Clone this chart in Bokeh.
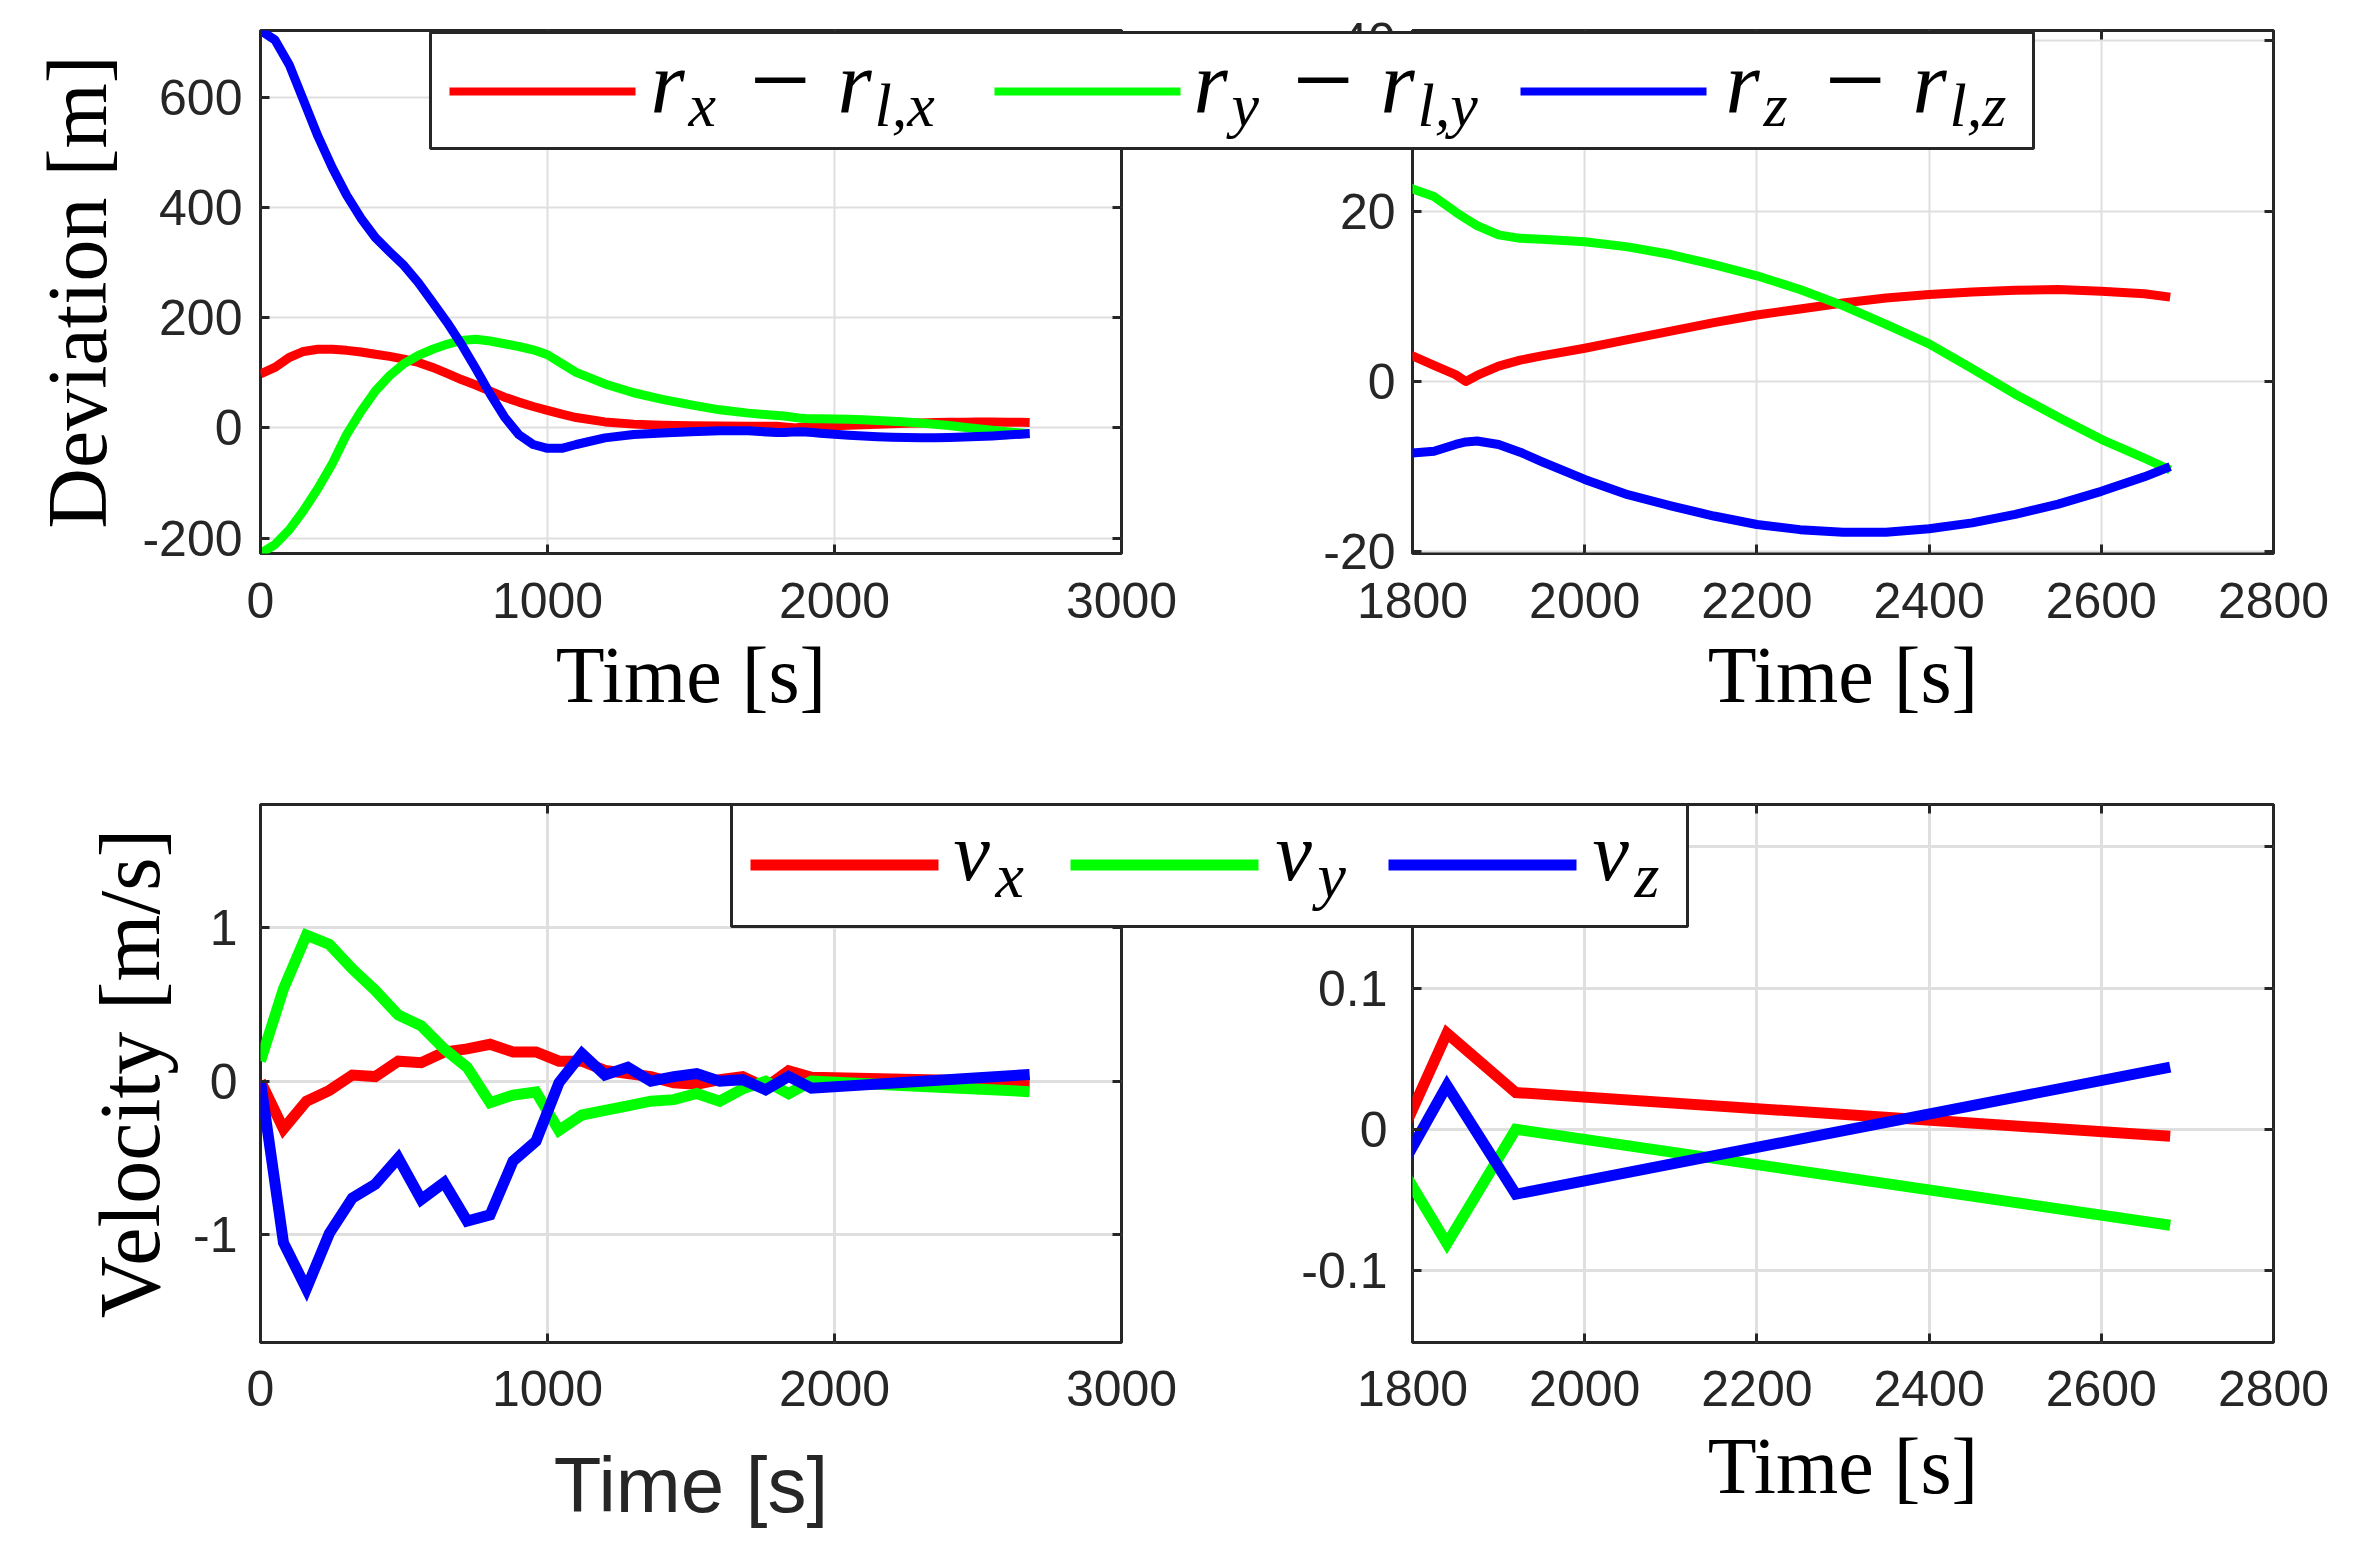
import numpy as np
from bokeh.plotting import figure
from bokeh.models import Range1d, FixedTicker, LinearAxis, GridBox
from bokeh.core.properties import value
from bokeh.embed import file_html
from bokeh.resources import INLINE

# ---------------- data ----------------
dev_time = [0, 50, 100, 150, 200, 250, 300, 350, 400, 450, 500, 550, 600, 650, 700, 750,
            800, 850, 900, 950, 1000, 1050, 1100, 1200, 1300, 1400, 1500, 1600, 1700, 1800,
            1825, 1850, 1862, 1875, 1900, 1925, 1950, 2000, 2050, 2100, 2150, 2200, 2250,
            2300, 2350, 2400, 2450, 2500, 2550, 2600, 2650, 2680]
dev_x = [98, 110, 128, 139, 143, 143, 141, 138, 134, 130, 125, 119, 110, 99, 88, 78,
         67, 56, 47, 39, 32, 25, 19, 11, 7, 5, 4, 3.5, 3.3, 3.0,
         1.9, 0.8, 0.0, 0.7, 1.8, 2.5, 3.0, 3.9, 4.9, 5.9, 6.9, 7.8, 8.5,
         9.2, 9.8, 10.2, 10.5, 10.7, 10.8, 10.6, 10.3, 9.9]
dev_y = [-228, -212, -185, -150, -110, -65, -12, 30, 67, 95, 117, 132, 143, 152, 159, 161,
         158, 153, 148, 142, 133, 117, 101, 80, 64, 52, 42, 33, 27, 22.6,
         21.7, 19.9, 19.1, 18.3, 17.2, 16.8, 16.7, 16.4, 15.8, 14.9, 13.7, 12.4, 10.8,
         8.9, 6.7, 4.4, 1.5, -1.5, -4.2, -6.8, -9.0, -10.4]
dev_z = [722, 705, 660, 595, 530, 473, 423, 381, 346, 320, 295, 264, 228, 192, 152, 108,
         62, 20, -12, -30, -37, -37, -30, -18, -12, -9, -7, -5, -5, -8.4,
         -8.2, -7.4, -7.1, -7.0, -7.4, -8.3, -9.4, -11.5, -13.3, -14.6, -15.8, -16.8, -17.4,
         -17.7, -17.7, -17.3, -16.6, -15.6, -14.4, -12.9, -11.2, -10.0]

vel_time = [0, 80, 160, 240, 320, 400, 480, 560, 640, 720, 800, 880, 960, 1040, 1120,
            1200, 1280, 1360, 1440, 1520, 1600, 1680, 1760, 1840, 1920, 2680]
vel_x = [0.0, -0.31, -0.13, -0.06, 0.04, 0.03, 0.13, 0.12, 0.19, 0.21, 0.24, 0.19, 0.19,
         0.13, 0.13, 0.07, 0.05, 0.03, -0.01, -0.02, 0.01, 0.03, -0.04, 0.068, 0.026, -0.005]
vel_y = [0.13, 0.6, 0.95, 0.89, 0.73, 0.59, 0.43, 0.36, 0.21, 0.09, -0.14, -0.09, -0.07,
         -0.32, -0.22, -0.19, -0.16, -0.13, -0.12, -0.08, -0.13, -0.05, 0.0, -0.081, 0.0, -0.068]
vel_z = [0.0, -1.05, -1.35, -0.99, -0.76, -0.67, -0.50, -0.77, -0.66, -0.91, -0.87, -0.52,
         -0.39, -0.01, 0.18, 0.04, 0.09, 0.0, 0.03, 0.05, 0.0, 0.01, -0.056, 0.031, -0.046, 0.044]

x_ticks_full = [0, 1000, 2000, 3000]
x_ticks_zoom = [1800, 2000, 2200, 2400, 2600, 2800]
dev_ticks_full = [-200, 0, 200, 400, 600]
dev_ticks_zoom = [-20, 0, 20, 40]
vel_ticks_full = [-1, 0, 1]
vel_ticks_zoom = [-0.1, 0, 0.1, 0.2]

series_colors = ["#ff0000", "#00ff00", "#0000ff"]
dev_sub = ["x", "y", "z"]
vel_sub = ["x", "y", "z"]

# ---------------- styling ----------------
AX = "#262626"
GRID = "#dfdfdf"
SANS = "Liberation Sans"
SERIF = "Liberation Serif"


def fmt(v):
    return ("%g" % v)


def style_ticks(ax, ticks):
    ax.ticker = FixedTicker(ticks=ticks)
    ax.axis_line_color = None
    ax.major_tick_in = 9
    ax.major_tick_out = 0
    ax.major_tick_line_color = AX
    ax.major_tick_line_width = 3
    ax.minor_tick_line_color = None


def panel(width, height, borders, xr, yr, xt, yt, lw, gw, join,
          xlabel=None, xlabel_font=SERIF, xlabel_size="80px", xlabel_standoff=0,
          ylabel=None, ylabel_size="84px", ylabel_standoff=0, xtick_standoff=28,
          ytick_standoff=18, times=None, series=None):
    l, r, t, b = borders
    p = figure(width=width, height=height, x_range=Range1d(*xr), y_range=Range1d(*yr),
               output_backend="svg", toolbar_location=None,
               min_border_left=l, min_border_right=r, min_border_top=t, min_border_bottom=b,
               background_fill_color="white", border_fill_color="white")
    p.outline_line_color = AX
    p.outline_line_width = 3
    xa = p.below[0]
    ya = p.left[0]
    for ax, ticks in ((xa, xt), (ya, yt)):
        style_ticks(ax, ticks)
        ax.major_label_overrides = {k: fmt(k) for k in ticks}
        ax.major_label_text_font = SANS
        ax.major_label_text_font_size = "50px"
        ax.major_label_text_color = AX
    xa.major_label_standoff = xtick_standoff
    ya.major_label_standoff = ytick_standoff
    # mirrored ticks on the right and top (box on)
    for loc, ticks in (("right", yt), ("above", xt)):
        ax2 = LinearAxis()
        style_ticks(ax2, ticks)
        ax2.major_label_overrides = {k: "" for k in ticks}
        ax2.major_label_text_font_size = "0px"
        ax2.major_label_standoff = 0
        p.add_layout(ax2, loc)
    p.grid.grid_line_color = GRID
    p.grid.grid_line_width = gw
    p.xgrid.ticker = FixedTicker(ticks=xt)
    p.ygrid.ticker = FixedTicker(ticks=yt)
    if xlabel:
        xa.axis_label = xlabel
        xa.axis_label_text_font = xlabel_font
        xa.axis_label_text_font_size = xlabel_size
        xa.axis_label_text_font_style = "normal"
        xa.axis_label_text_color = AX if xlabel_font == SANS else "black"
        xa.axis_label_standoff = xlabel_standoff
    if ylabel:
        ya.axis_label = ylabel
        ya.axis_label_text_font = SERIF
        ya.axis_label_text_font_size = ylabel_size
        ya.axis_label_text_font_style = "normal"
        ya.axis_label_text_color = "black"
        ya.axis_label_standoff = ylabel_standoff
    for vals, c in zip(series, series_colors):
        p.line(times, vals, line_color=c, line_width=lw, line_join=join)
    return p


# page layout: left column 1260 px, right column 1093 px; rows 760 / 775 px
tl = panel(1260, 760, (260, 139, 30, 207), (0, 3000), (-228, 722), x_ticks_full, dev_ticks_full,
           9, 2, "round", xlabel="Time [s]", xlabel_standoff=10, ylabel="Deviation [m]",
           ylabel_size="84px", ylabel_standoff=15, xtick_standoff=29, ytick_standoff=18,
           times=dev_time, series=[dev_x, dev_y, dev_z])
tr = panel(1093, 760, (152, 80, 30, 207), (1800, 2800), (-20.2, 41.2), x_ticks_zoom, dev_ticks_zoom,
           9, 2, "round", xlabel="Time [s]", xlabel_standoff=10,
           xtick_standoff=29, ytick_standoff=17,
           times=dev_time, series=[dev_x, dev_y, dev_z])
bl = panel(1260, 775, (260, 139, 44, 193), (0, 3000), (-1.7, 1.8), x_ticks_full, vel_ticks_full,
           11, 3, "miter", xlabel="Time [s]", xlabel_font=SANS, xlabel_size="78px",
           xlabel_standoff=32, ylabel="Velocity [m/s]", ylabel_size="86px", ylabel_standoff=12,
           xtick_standoff=28, ytick_standoff=23,
           times=vel_time, series=[vel_x, vel_y, vel_z])
br = panel(1093, 775, (152, 80, 44, 193), (1800, 2800), (-0.151, 0.23), x_ticks_zoom, vel_ticks_zoom,
           11, 3, "miter", xlabel="Time [s]", xlabel_standoff=13,
           xtick_standoff=28, ytick_standoff=25,
           times=vel_time, series=[vel_x, vel_y, vel_z])

# ---------------- overlay with the two legends (page pixel coordinates) ----------------
W, H = 2353, 1535
FL, FR, FT, FB = 260, 2273, 30, 1342  # union of the panel frames on the page
ov = figure(width=W, height=H, x_range=Range1d(FL, FR), y_range=Range1d(FB, FT),
            output_backend="svg", toolbar_location=None,
            min_border_left=FL, min_border_right=W - FR, min_border_top=FT, min_border_bottom=H - FB,
            x_axis_location=None, y_axis_location=None,
            background_fill_color=None, border_fill_color=None, outline_line_color=None)
ov.grid.visible = False

L1 = dict(left=430, right=2033, top=32, bottom=148, sw_y=91, sw_w=8,
          sw_x0=[449, 994, 1520], sw_len=186, tx=[650, 1193, 1725], base=111.7, sub_base=125)
L2 = dict(left=731, right=1687, top=804, bottom=926, sw_y=864.5, sw_w=11,
          sw_x0=[750, 1070, 1388], sw_len=188, tx=[953, 1275, 1592], base=880, sub_base=897)

for L in (L1, L2):
    ov.quad(left=[L["left"]], right=[L["right"]], top=[L["top"]], bottom=[L["bottom"]],
            fill_color="white", line_color=AX, line_width=3)
    x0 = L["sw_x0"]
    ov.segment(x0=x0, y0=[L["sw_y"]] * 3, x1=[a + L["sw_len"] for a in x0], y1=[L["sw_y"]] * 3,
               line_color=series_colors, line_width=L["sw_w"])


def mid(base, size):
    # text glyph anchor that puts the alphabetic baseline of Liberation Serif at `base`
    return base - 0.3375 * size


def tex(xs, ys, texts, size, italic=True):
    ov.text(x=xs, y=ys, text=texts, text_font=value(SERIF),
            text_font_style="italic" if italic else "normal", text_font_size="%dpx" % size,
            text_baseline="alphabetic", text_align="left", text_color="black")


# legend 1 texts: r_s − r_{l,s}
tx = L1["tx"]
tex(tx + [a + 187 for a in tx], [mid(L1["base"], 88)] * 6, ["r"] * 6, 88)
tex([a + 38 for a in tx], [mid(L1["sub_base"], 62)] * 3, dev_sub, 62)
tex([a + 224 for a in tx], [mid(L1["sub_base"], 62)] * 3, ["l," + s for s in dev_sub], 62)
tex([a + 99 for a in tx], [mid(116, 108)] * 3, ["\u2212"] * 3, 108, italic=False)

# legend 2 texts: v_s
tx2 = L2["tx"]
tex(tx2, [mid(L2["base"], 82)] * 3, ["v"] * 3, 82)
tex([a + 42 for a in tx2], [mid(L2["sub_base"], 64)] * 3, vel_sub, 64)

grid = GridBox(children=[(tl, 0, 0), (tr, 0, 1), (bl, 1, 0), (br, 1, 1), (ov, 0, 0, 2, 2)])

open("out.html", "w").write(file_html(grid, INLINE))
